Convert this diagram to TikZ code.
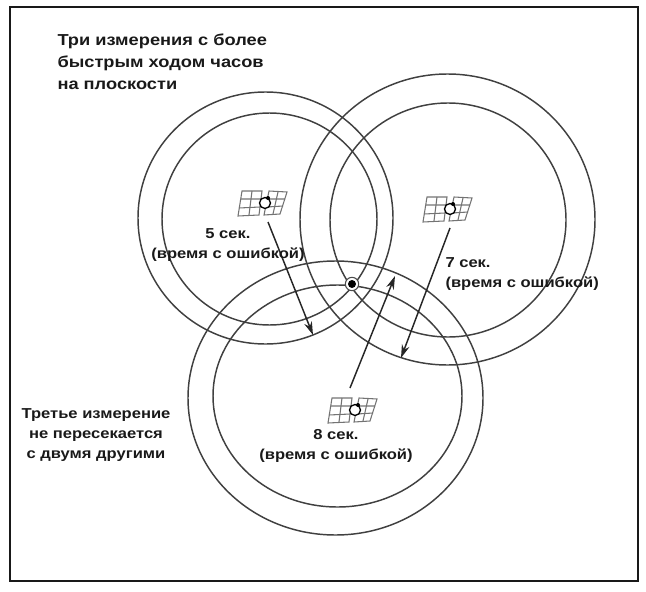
\documentclass[tikz,border=0pt]{standalone}
\usepackage{fontspec}
\setmainfont[FakeStretch=1.15]{Liberation Sans}
\usetikzlibrary{arrows.meta}

\tikzset{every picture/.style={line width=0.75pt}}
\tikzset{
	orbit/.style={draw=black!75,line width=1.1pt},
	rayarrow/.style={draw=black!85,line width=1.1pt,-{Stealth[length=10pt,width=6pt]}},
	caption/.style={font=\bfseries\fontsize{10.8}{15}\selectfont,text=black!90,align=center,inner sep=0pt},
	panel/.style={draw=black!55,line width=0.8pt},
	pics/satellite/.style={code={
		% left wing
		\draw [panel] (-27,-13) -- (-6,-12) -- (-3,12) -- (-23,12) -- cycle ;
		\draw [panel] (-26,-5) -- (-5,-4) (-24,4) -- (-4,4) ;
		\draw [panel] (-16,-12) -- (-13,12) ;
		% right wing
		\draw [panel] (-1,-12) -- (15,-11) -- (22,11) -- (4,12) -- cycle ;
		\draw [panel] (2,-4) -- (18,-3) (3,4) -- (20,4) ;
		\draw [panel] (8,-11) -- (13,11) ;
		% body
		\draw [fill=white,draw=black,line width=1pt] (0,0) circle (5.5) ;
		\fill [black] (3,5) circle (2) ;
	}}
}

\begin{document}
\begin{tikzpicture}[x=0.75pt,y=0.75pt,yscale=-1,xscale=1]
	\useasboundingbox (0,0) rectangle (646,592);

	%Frame
	\draw [line width=1.8pt,black!90] (10,7) rectangle (638,581) ;

	%Circles, left
	\draw [orbit] (265.5,218) ellipse (127.5 and 126) ;
	\draw [orbit] (269.5,219) ellipse (107.5 and 106) ;
	%Circles, right
	\draw [orbit] (447.5,219.5) ellipse (147.5 and 145.5) ;
	\draw [orbit] (448,220) ellipse (118 and 117) ;
	%Circles, bottom
	\draw [orbit] (335.5,398) ellipse (147.5 and 137) ;
	\draw [orbit] (337.5,396) ellipse (124.5 and 111) ;

	%Satellites
	\pic at (265,203) {satellite} ;
	\pic at (450,209) {satellite} ;
	\pic at (355,410) {satellite} ;

	%Ends of the arrows
	\coordinate (satA) at (268,222) ;
	\coordinate (hitA) at (313,335) ;
	\coordinate (satB) at (450,228) ;
	\coordinate (hitB) at (401,358) ;
	\coordinate (satC) at (350,388) ;
	\coordinate (hitC) at (395,276) ;

	\draw [rayarrow] (satA) -- (hitA) ;
	\draw [rayarrow] (satB) -- (hitB) ;
	\draw [rayarrow] (satC) -- (hitC) ;

	%Marker
	\node (fix) [circle,draw=black!70,line width=0.8pt,fill=white,minimum size=10pt,inner sep=0pt] at (352,284) {} ;
	\fill [black] (fix) circle (4) ;

	% Text Node
	\node (title) [caption,font=\bfseries\fontsize{11.9}{16.5}\selectfont,align=left,anchor=north west] at (57,33) {Три измерения с более\\быстрым ходом часов\\на плоскости} ;
	% Text Node
	\node (timeA) [caption,anchor=north] at (228,228.5) {5 сек.\\(время с ошибкой)} ;
	% Text Node
	\node (timeB) [caption,align=left,anchor=north west] at (445,257) {7 сек.\\(время с ошибкой)} ;
	% Text Node
	\node (timeC) [caption,anchor=north] at (336,429) {8 сек.\\(время с ошибкой)} ;
	% Text Node
	\node (third) [caption,anchor=north] at (96,408) {Третье измерение\\не пересекается\\с двумя другими} ;
\end{tikzpicture}
\end{document}
